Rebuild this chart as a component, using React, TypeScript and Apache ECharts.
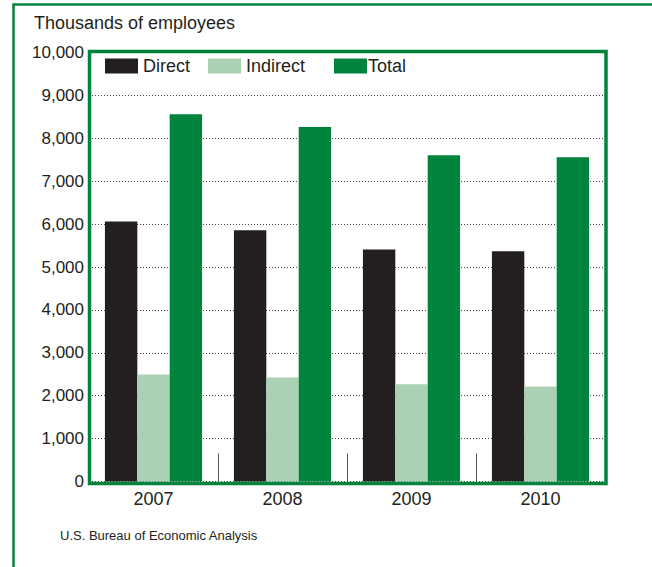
import React, { useEffect, useRef } from "react";
import * as echarts from "echarts";

const years = ["2007", "2008", "2009", "2010"];
const direct = [6060, 5855, 5410, 5365];
const indirect = [2497, 2427, 2264, 2217];
const total = [8560, 8265, 7605, 7560];
const yTicks = { min: 0, max: 10000, interval: 1000 };

const GREEN = "#00843D";
const LIGHT = "#ABD1B5";
const DARK = "#231F20";
const FONT = "Liberation Sans, Arial, Helvetica, sans-serif";

export default function App() {
  const ref = useRef<HTMLDivElement>(null);
  useEffect(() => {
    if (!ref.current) return;
    const chart = echarts.init(ref.current, undefined, { renderer: "svg" });
    const legendBase = {
      top: 57,
      padding: 0,
      itemWidth: 33,
      itemHeight: 15,
      icon: "rect",
      textStyle: { fontSize: 18, color: DARK, fontFamily: FONT },
      selectedMode: false,
    };
    chart.setOption({
      animation: false,
      backgroundColor: "#ffffff",
      textStyle: { fontFamily: FONT },
      title: {
        text: "Thousands of employees",
        left: 34,
        top: 14,
        padding: 0,
        textStyle: { fontSize: 18, fontWeight: "normal", color: DARK, fontFamily: FONT },
      },
      legend: [
        { ...legendBase, left: 105, data: ["Direct"] },
        { ...legendBase, left: 208, data: ["Indirect"] },
        { ...legendBase, left: 334, data: ["Total"], textStyle: { ...legendBase.textStyle, padding: [0, 0, 0, -4] } },
      ],
      grid: { left: 89, right: 47, top: 52.5, bottom: 85.5, containLabel: false },
      xAxis: {
        type: "category",
        data: years,
        axisLine: { show: false },
        axisTick: { show: true, inside: true, length: 28, lineStyle: { color: "#555", width: 1 } },
        axisLabel: { fontSize: 18, color: DARK, margin: 8, fontFamily: FONT },
      },
      yAxis: {
        type: "value",
        min: yTicks.min,
        max: yTicks.max,
        interval: yTicks.interval,
        axisLine: { show: false },
        axisTick: { show: false },
        axisLabel: {
          fontSize: 17,
          color: DARK,
          margin: 5,
          fontFamily: FONT,
          formatter: (v: number) => v.toLocaleString("en-US"),
        },
        splitLine: { show: true, lineStyle: { color: "#444", width: 1, type: [1, 2] } },
      },
      series: [
        { name: "Direct", type: "bar", data: direct, itemStyle: { color: DARK }, barGap: "0%", barCategoryGap: "24.7%" },
        { name: "Indirect", type: "bar", data: indirect, itemStyle: { color: LIGHT }, barGap: "0%", barCategoryGap: "24.7%" },
        { name: "Total", type: "bar", data: total, itemStyle: { color: GREEN }, barGap: "0%", barCategoryGap: "24.7%" },
      ],
      graphic: [
        {
          type: "rect",
          z: 100,
          shape: { x: 13.5, y: 4.5, width: 800, height: 800 },
          style: { fill: "none", stroke: GREEN, lineWidth: 2.5 },
          silent: true,
        },
        {
          type: "rect",
          z: 100,
          shape: { x: 89.5, y: 51.5, width: 516.5, height: 432 },
          style: { fill: "none", stroke: GREEN, lineWidth: 3.5 },
          silent: true,
        },
        {
          type: "text",
          z: 100,
          x: 60,
          y: 529,
          style: { text: "U.S. Bureau of Economic Analysis", fontSize: 13, fill: DARK, fontFamily: FONT },
        },
      ],
    });
    return () => chart.dispose();
  }, []);
  return <div ref={ref} style={{ position: "fixed", left: 0, top: 0, width: 652, height: 567 }} />;
}
